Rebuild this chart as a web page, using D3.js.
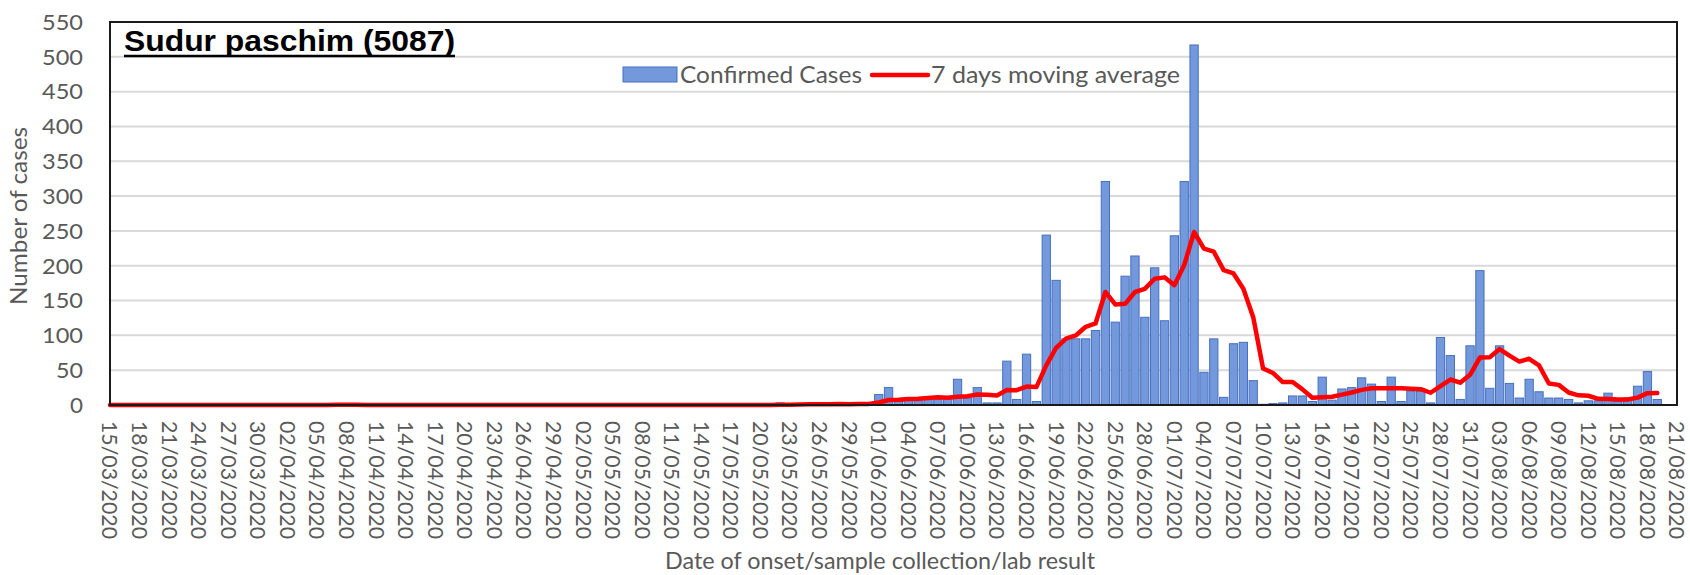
<!DOCTYPE html>
<html>
<head>
<meta charset="utf-8">
<script src="https://cdn.jsdelivr.net/npm/d3@7"></script>
<style>
  html, body { margin: 0; padding: 0; background: #fff; }
  svg { display: block; }
</style>
</head>
<body>
<svg id="chart" width="1690" height="575"></svg>
<script>
// ---------------- DATA ----------------
const startDate = "2020-03-15";
const endDate = "2020-08-21";

// daily confirmed cases from 15/03/2020 (one value per day)
const confirmedCases = [
  0,0,0,0,0,0,0,0,0,0,
  0,0,0,0,0,0,0,0,0,0,
  0,0,0,1,0,0,0,0,0,0,
  0,0,0,0,0,0,0,0,0,0,
  0,0,0,0,0,0,0,0,0,0,
  0,0,0,0,0,0,0,0,0,0,
  0,0,0,0,0,0,0,0,3,0,
  2,1,0,2,1,2,3,2,15,25,
  5,8,6,10,8,10,37,10,25,3,
  3,63,8,73,5,244,179,95,95,95,
  107,321,119,185,214,126,197,121,243,321,
  517,47,95,11,88,90,35,1,2,3,
  13,13,5,40,7,23,25,39,30,5,
  40,5,20,20,3,97,71,8,85,193,
  24,85,31,10,37,19,10,10,8,3,
  6,6,17,5,10,27,48,8
];

// 7 days moving average, same days
const movingAverage = [
  0,0,0,0,0,0,0,0,0,0,
  0,0,0,0,0,0,0,0,0,0,
  0,0,0,0.5,0.5,0.3,0,0,0,0,
  0,0,0,0,0,0,0,0,0,0,
  0,0,0,0,0,0,0,0,0,0,
  0,0,0,0,0,0,0,0,0,0,
  0,0,0,0,0,0,0,0,0.4,0.4,
  0.7,0.9,0.9,1.1,1.3,1.1,1.6,1.6,3.6,7.1,
  7.6,8.6,9.1,10.1,11,10.3,12,12.7,15.1,14.7,
  13.7,21.6,21.3,26.4,25.7,57,82.1,95.3,99.9,112.3,
  117.1,162.3,144.4,145.3,162.3,166.7,181.3,183.3,172.1,201,
  248.4,224.6,220.1,193.6,188.9,167,126.1,52.4,46,32.9,
  33.1,22.4,10.3,11,11.9,14.9,18,21.7,24.1,24.1,
  24.1,23.9,23.4,22.7,17.6,27.1,36.6,32,43.4,68.1,
  68.7,80.4,71,62.3,66.4,57,30.9,28.9,17.9,13.9,
  13.3,8.9,8.6,7.9,7.9,10.6,17,17.3
];

const xTickLabels = [
  "15/03/2020","18/03/2020","21/03/2020","24/03/2020","27/03/2020","30/03/2020",
  "02/04/2020","05/04/2020","08/04/2020","11/04/2020","14/04/2020","17/04/2020",
  "20/04/2020","23/04/2020","26/04/2020","29/04/2020","02/05/2020","05/05/2020",
  "08/05/2020","11/05/2020","14/05/2020","17/05/2020","20/05/2020","23/05/2020",
  "26/05/2020","29/05/2020","01/06/2020","04/06/2020","07/06/2020","10/06/2020",
  "13/06/2020","16/06/2020","19/06/2020","22/06/2020","25/06/2020","28/06/2020",
  "01/07/2020","04/07/2020","07/07/2020","10/07/2020","13/07/2020","16/07/2020",
  "19/07/2020","22/07/2020","25/07/2020","28/07/2020","31/07/2020","03/08/2020",
  "06/08/2020","09/08/2020","12/08/2020","15/08/2020","18/08/2020","21/08/2020"
];

const yTickValues = [0,50,100,150,200,250,300,350,400,450,500,550];

const chartTitle = "Sudur paschim (5087)";
const yAxisTitle = "Number of cases";
const xAxisTitle = "Date of onset/sample collection/lab result";
const seriesNames = ["Confirmed Cases", "7 days moving average"];

// ---------------- CHART ----------------
const svg = d3.select("#chart");
const W = 1690, H = 575;
const plot = { left: 110, right: 1677, top: 22, bottom: 405 };

svg.append("rect").attr("width", W).attr("height", H).attr("fill", "#fff");

const parseISO = d3.utcParse("%Y-%m-%d");
const parseLabel = d3.utcParse("%d/%m/%Y");
const t0 = parseISO(startDate);
const days = confirmedCases.map((v, i) => ({ date: d3.utcDay.offset(t0, i), cases: v, avg: movingAverage[i] }));

const x = d3.scaleUtc()
  .domain([t0, parseISO(endDate)])
  .range([plot.left, plot.right]);
const y = d3.scaleLinear().domain([0, 550]).range([plot.bottom, plot.top]);

const step = x(d3.utcDay.offset(t0, 1)) - x(t0);
const barW = step * 0.84;

// gridlines
svg.append("g")
  .selectAll("line")
  .data(yTickValues.filter(v => v > 0))
  .join("line")
  .attr("x1", plot.left).attr("x2", plot.right)
  .attr("y1", d => y(d)).attr("y2", d => y(d))
  .attr("stroke", "#d9d9d9").attr("stroke-width", 2);

// y axis labels
const yAxis = d3.axisLeft(y).tickValues(yTickValues).tickSize(0).tickPadding(0);
const gy = svg.append("g").attr("transform", `translate(${plot.left - 27},0)`).call(yAxis);
gy.select(".domain").remove();
gy.selectAll("text")
  .attr("font-family", "Lato, 'Open Sans', sans-serif")
  .attr("font-size", 21)
  .attr("fill", "#595959")
  .attr("dy", "0.35em")
  .attr("textLength", 41)
  .attr("lengthAdjust", "spacingAndGlyphs")
  .attr("x", -41)
  .attr("text-anchor", "start");
gy.selectAll("text").filter(d => d < 100)
  .attr("textLength", d => d === 0 ? 13 : 27)
  .attr("x", d => d === 0 ? -13 : -27);

// bars
svg.append("g")
  .selectAll("rect")
  .data(days.filter(d => d.cases > 0))
  .join("rect")
  .attr("x", d => x(d.date) - barW / 2)
  .attr("width", barW)
  .attr("y", d => y(d.cases))
  .attr("height", d => y(0) - y(d.cases))
  .attr("fill", "#7398dc")
  .attr("stroke", "#4670c0")
  .attr("stroke-width", 1);

// moving average line
const line = d3.line().x(d => x(d.date)).y(d => y(d.avg));
svg.append("path")
  .datum(days)
  .attr("d", line)
  .attr("fill", "none")
  .attr("stroke", "#ff0000")
  .attr("stroke-width", 4.5)
  .attr("stroke-linejoin", "round")
  .attr("stroke-linecap", "round");

// plot border
svg.append("rect")
  .attr("x", plot.left).attr("y", plot.top)
  .attr("width", plot.right - plot.left).attr("height", plot.bottom - plot.top)
  .attr("fill", "none").attr("stroke", "#1a1a1a").attr("stroke-width", 2);

// x tick labels (rotated)
const gx = svg.append("g");
gx.selectAll("text")
  .data(xTickLabels)
  .join("text")
  .attr("transform", d => `translate(${x(parseLabel(d))},${plot.bottom + 16}) rotate(90)`)
  .attr("dy", "0.35em")
  .attr("text-anchor", "start")
  .attr("font-family", "Lato, 'Open Sans', sans-serif")
  .attr("font-size", 21.5)
  .attr("fill", "#595959")
  .attr("textLength", 118)
  .attr("lengthAdjust", "spacingAndGlyphs")
  .text(d => d);

// axis titles
svg.append("text")
  .attr("transform", `translate(27,216) rotate(-90)`)
  .attr("text-anchor", "middle")
  .attr("font-family", "Lato, 'Open Sans', sans-serif")
  .attr("font-size", 23)
  .attr("fill", "#595959")
  .attr("textLength", 178)
  .attr("lengthAdjust", "spacingAndGlyphs")
  .text(yAxisTitle);

svg.append("text")
  .attr("x", 880).attr("y", 569)
  .attr("text-anchor", "middle")
  .attr("font-family", "Lato, 'Open Sans', sans-serif")
  .attr("font-size", 23)
  .attr("fill", "#595959")
  .attr("textLength", 430)
  .attr("lengthAdjust", "spacingAndGlyphs")
  .text(xAxisTitle);

// chart title (underlined, bold)
svg.append("text")
  .attr("x", 124).attr("y", 51)
  .attr("font-family", "'Liberation Sans', Arial, sans-serif")
  .attr("font-weight", "bold")
  .attr("font-size", 29)
  .attr("fill", "#000")
  .attr("textLength", 331)
  .attr("lengthAdjust", "spacingAndGlyphs")
  .text(chartTitle);
svg.append("line")
  .attr("x1", 124).attr("x2", 455).attr("y1", 56).attr("y2", 56)
  .attr("stroke", "#000").attr("stroke-width", 2.5);

// legend
const lg = svg.append("g");
lg.append("rect")
  .attr("x", 623).attr("y", 67).attr("width", 54).attr("height", 15)
  .attr("fill", "#7398dc").attr("stroke", "#4670c0").attr("stroke-width", 1);
lg.append("text")
  .attr("x", 680).attr("y", 75).attr("dy", "0.35em")
  .attr("font-family", "Lato, 'Open Sans', sans-serif")
  .attr("font-size", 23).attr("fill", "#595959")
  .attr("textLength", 182).attr("lengthAdjust", "spacingAndGlyphs")
  .text(seriesNames[0]);
lg.append("line")
  .attr("x1", 872).attr("x2", 928).attr("y1", 75).attr("y2", 75)
  .attr("stroke", "#ff0000").attr("stroke-width", 4.5).attr("stroke-linecap", "round");
lg.append("text")
  .attr("x", 931).attr("y", 75).attr("dy", "0.35em")
  .attr("font-family", "Lato, 'Open Sans', sans-serif")
  .attr("font-size", 23).attr("fill", "#595959")
  .attr("textLength", 249).attr("lengthAdjust", "spacingAndGlyphs")
  .text(seriesNames[1]);
</script>
</body>
</html>
